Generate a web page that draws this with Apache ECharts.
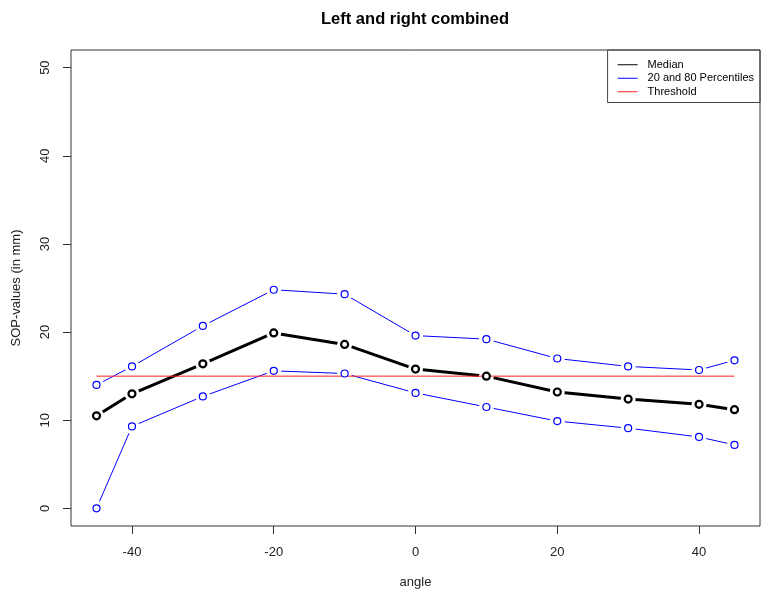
<!DOCTYPE html>
<html>
<head>
<meta charset="utf-8">
<script src="https://cdn.jsdelivr.net/npm/echarts@6/dist/echarts.min.js"></script>
<style>
  html, body { margin: 0; padding: 0; background: #fff; }
  #chart { width: 769px; height: 599px; }
</style>
</head>
<body>
<div id="chart"></div>
<script>
// angles where the SOP values were measured
const angles = [-45, -40, -30, -20, -10, 0, 10, 20, 30, 40, 45];
// median and 20/80 percentile curves (mm)
const median = [10.5, 13.0, 16.4, 19.9, 18.6, 15.8, 15.0, 13.2, 12.4, 11.8, 11.2];
const upper = [14.0, 16.1, 20.7, 24.8, 24.3, 19.6, 19.2, 17.0, 16.1, 15.7, 16.8];
const lower = [0, 9.3, 12.7, 15.6, 15.3, 13.1, 11.5, 9.9, 9.1, 8.1, 7.2];
const threshold = 15;
const xTicks = [-40, -20, 0, 20, 40];
const yTicks = [0, 10, 20, 30, 40, 50];

const FONT = '"Liberation Sans", Arial, sans-serif';
const pairs = vals => angles.map((a, i) => [a, vals[i]]);

// line only, then a white dot to cut the gap, then the open circle (R type="b")
function curve(name, vals, color, width, size, border, z) {
  return [
    {
      name: name, type: 'line', data: pairs(vals), showSymbol: false,
      lineStyle: { color: color, width: width }, itemStyle: { color: color },
      z: z, silent: true
    },
    {
      type: 'scatter', data: pairs(vals), symbol: 'circle', symbolSize: size + 8,
      itemStyle: { color: '#fff', opacity: 1 }, z: z + 1, silent: true
    },
    {
      type: 'scatter', data: pairs(vals), symbol: 'circle', symbolSize: size,
      itemStyle: { color: '#fff', opacity: 1, borderColor: color, borderWidth: border },
      z: z + 5, silent: true
    }
  ];
}

let chartDom = document.getElementById('chart');
let myChart = echarts.init(chartDom);

let option = {
  animation: false,
  title: {
    text: 'Left and right combined',
    left: 410, top: 6, textAlign: 'center',
    textStyle: { fontFamily: FONT, fontSize: 16.5, fontWeight: 'bold', color: '#000' }
  },
  legend: {
    right: 9, top: 50, orient: 'vertical',
    data: [
      { name: 'Median', icon: 'rect', itemStyle: { color: '#000' } },
      { name: '20 and 80 Percentiles', icon: 'rect', itemStyle: { color: '#0000ff' } },
      { name: 'Threshold', icon: 'rect', itemStyle: { color: '#ff2020' } }
    ],
    itemWidth: 20, itemHeight: 1, itemGap: 0,
    padding: [8, 6, 4, 10],
    borderColor: '#444', borderWidth: 1, borderRadius: 0,
    textStyle: { fontFamily: FONT, fontSize: 11, lineHeight: 13.5, color: '#000', padding: [0, 0, 0, 5] },
    selectedMode: false
  },
  grid: {
    left: 71, right: 9, top: 50, bottom: 73,
    show: true, borderColor: '#333', borderWidth: 1, backgroundColor: 'transparent'
  },
  xAxis: {
    type: 'value', min: -48.6, max: 48.6,
    name: 'angle', nameLocation: 'middle', nameGap: 50,
    nameTextStyle: { fontFamily: FONT, fontSize: 13, color: '#222' },
    axisLine: { show: false, onZero: false },
    axisTick: { show: true, customValues: xTicks, length: 8, lineStyle: { color: '#333' } },
    axisLabel: { customValues: xTicks, margin: 20, fontFamily: FONT, fontSize: 13, color: '#222' },
    splitLine: { show: false }
  },
  yAxis: {
    type: 'value', min: -2, max: 52,
    name: 'SOP-values (in mm)', nameLocation: 'middle', nameGap: 48, nameRotate: 90,
    nameTextStyle: { fontFamily: FONT, fontSize: 13, color: '#222' },
    axisLine: { show: false, onZero: false },
    axisTick: { show: true, customValues: yTicks, length: 8, lineStyle: { color: '#333' } },
    axisLabel: { customValues: yTicks, rotate: 90, margin: 19, fontFamily: FONT, fontSize: 13, color: '#222' },
    splitLine: { show: false }
  },
  series: [
    ...curve('20 and 80 Percentiles', upper, '#0000ff', 1, 7, 1.2, 2),
    ...curve('20 and 80 Percentiles', lower, '#0000ff', 1, 7, 1.2, 2),
    ...curve('Median', median, '#000', 3, 7, 2.2, 2),
    {
      name: 'Threshold', type: 'line',
      data: [[angles[0], threshold], [angles[angles.length - 1], threshold]],
      showSymbol: false, lineStyle: { color: '#ff2020', width: 1 },
      itemStyle: { color: '#ff2020' }, z: 5, silent: true
    }
  ]
};

option && myChart.setOption(option);
</script>
</body>
</html>
